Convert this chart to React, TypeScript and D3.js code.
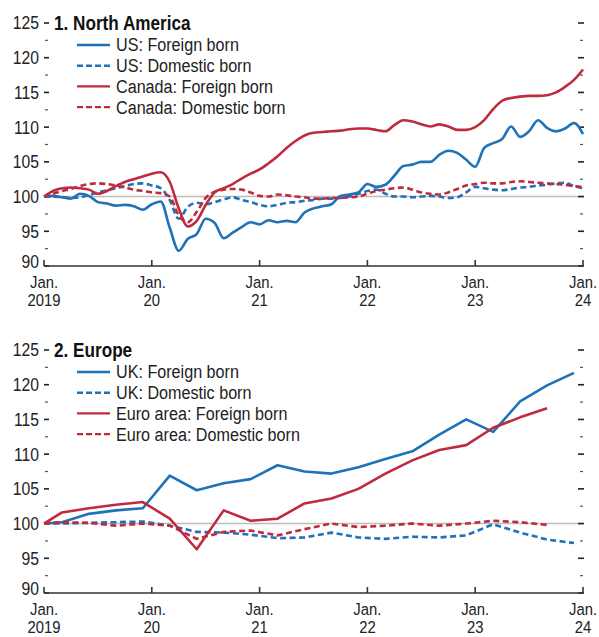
import React from "react";
import * as d3 from "d3";

// months since Jan 2019
const monthsNA = d3.range(0, 61);

const usForeign = [
  100, 100.1, 99.9, 99.7, 100.4, 100.1, 99.2, 99.0, 98.7, 98.8, 98.6, 98.1,
  98.9, 99.3, 95.5, 92.2, 93.9, 94.6, 96.8, 96.2, 94.0, 94.8, 95.6, 96.3,
  96.0, 96.6, 96.3, 96.5, 96.3, 97.7, 98.3, 98.6, 98.9, 100.1, 100.3, 100.6,
  101.8, 101.4, 101.7, 103.0, 104.4, 104.6, 105.0, 105.0, 106.0, 106.6, 106.3, 105.3,
  104.3, 107.0, 107.7, 108.3, 110.1, 108.6, 109.4, 111.0, 109.9, 109.4, 109.8, 110.6,
  109.0
];
const usDomestic = [
  100, 100.0, 99.9, 99.8, 99.9, 100.2, 100.6, 100.9, 101.2, 101.5, 101.8, 101.9,
  101.6, 101.2, 99.5, 96.8, 98.5, 99.1, 98.9, 99.2, 99.6, 99.9, 99.5, 99.2,
  98.8, 98.6, 98.8, 99.1, 99.2, 99.4, 99.5, 99.7, 99.7, 99.8, 100.0, 100.4,
  100.8, 101.0, 100.4, 100.0, 100.0, 99.9, 100.0, 100.1, 100.0, 99.8, 99.9, 100.6,
  101.4, 101.2, 101.0, 100.9, 101.1, 101.3, 101.4, 101.6, 101.7, 101.9, 102.0, 101.5,
  101.2
];
const canForeign = [
  100, 100.8, 101.2, 101.3, 101.2, 101.0, 100.4, 100.8, 101.5, 102.1, 102.5, 102.9,
  103.3, 103.5, 102.1, 98.3, 95.7, 96.5, 98.8, 100.6, 101.2, 101.8, 102.6, 103.3,
  103.9, 104.8, 105.8, 107.0, 108.0, 108.8, 109.2, 109.3, 109.4, 109.5, 109.7, 109.8,
  109.8, 109.6, 109.4, 110.3, 111.0, 110.8, 110.4, 110.1, 110.4, 110.1, 109.6, 109.6,
  110.0, 111.0, 112.6, 113.8, 114.2, 114.4, 114.5, 114.5, 114.6, 115.0, 115.8, 116.8,
  118.3
];
const canDomestic = [
  100, 100.4, 100.8, 101.1, 101.5, 101.8, 101.9, 101.8, 101.6, 101.3, 101.0, 100.8,
  100.6, 100.5, 100.0, 97.3, 96.3, 97.8, 99.8, 100.7, 101.0, 101.1, 101.0, 100.6,
  100.1, 100.0, 100.3, 100.2, 100.0, 99.9, 99.7, 99.7, 99.8, 99.8, 99.9, 100.0,
  100.4, 100.8, 101.0, 101.2, 101.3, 101.0, 100.6, 100.4, 100.3, 100.6, 101.1, 101.6,
  101.8, 102.0, 101.9, 101.9, 102.1, 102.2, 102.1, 102.0, 101.9, 101.8, 101.7, 101.5,
  101.4
];

// quarterly points, month index
const monthsEU = [0, 2, 5, 8, 11, 14, 17, 20, 23, 26, 29, 32, 35, 38, 41, 44, 47, 50, 53, 56, 59];
const ukForeign = [
  100, 100.2, 101.4, 101.9, 102.2, 106.9, 104.8, 105.8, 106.4, 108.4, 107.5,
  107.2, 108.1, 109.3, 110.4, 112.8, 115.0, 113.2, 117.6, 119.9, 121.7
];
const ukDomestic = [
  100, 100.0, 100.1, 100.2, 100.3, 99.7, 98.8, 98.7, 98.4, 97.9, 98.0,
  98.7, 98.0, 97.8, 98.1, 98.0, 98.3, 99.9, 98.7, 97.7, 97.2
];
const euroForeign = [
  100, 101.6, 102.2, 102.7, 103.1, 100.7, 96.3, 101.9, 100.4, 100.7, 102.9,
  103.6, 105.0, 107.2, 109.1, 110.6, 111.3, 113.8, 115.3, 116.6
];
const euroDomestic = [
  100, 100.2, 100.1, 99.7, 100.0, 99.7, 97.8, 98.8, 99.0, 98.3, 99.2,
  100.0, 99.5, 99.7, 100.0, 99.7, 100.0, 100.4, 100.2, 99.8
];

const yearLabels = ["2019", "20", "21", "22", "23", "24"];
const yTicks = [90, 95, 100, 105, 110, 115, 120, 125];
const yMinor = [92.5, 97.5, 102.5, 107.5, 112.5, 117.5, 122.5];

const BLUE = "#1f72b8";
const RED = "#bf2a3f";
const FONT = "'Liberation Sans', Arial, sans-serif";
const SQUEEZE = 0.85; // no narrow face installed, so condense by hand

type Series = { name: string; x: number[]; y: number[]; color: string; dashed: boolean };

const panels: { title: string; top: number; curve: any; series: Series[] }[] = [
  {
    title: "1. North America",
    top: 23,
    curve: d3.curveMonotoneX,
    series: [
      { name: "US: Foreign born", x: monthsNA, y: usForeign, color: BLUE, dashed: false },
      { name: "US: Domestic born", x: monthsNA, y: usDomestic, color: BLUE, dashed: true },
      { name: "Canada: Foreign born", x: monthsNA, y: canForeign, color: RED, dashed: false },
      { name: "Canada: Domestic born", x: monthsNA, y: canDomestic, color: RED, dashed: true }
    ]
  },
  {
    title: "2. Europe",
    top: 350,
    curve: d3.curveLinear,
    series: [
      { name: "UK: Foreign born", x: monthsEU, y: ukForeign, color: BLUE, dashed: false },
      { name: "UK: Domestic born", x: monthsEU, y: ukDomestic, color: BLUE, dashed: true },
      { name: "Euro area: Foreign born", x: monthsEU, y: euroForeign, color: RED, dashed: false },
      { name: "Euro area: Domestic born", x: monthsEU, y: euroDomestic, color: RED, dashed: true }
    ]
  }
];

const xScale = d3.scaleLinear().domain([0, 60]).range([44, 583]);

function Txt(props: { x: number; y: number; anchor?: string; bold?: boolean; size?: number; sq?: number; children: any }) {
  return (
    <g transform={`translate(${props.x},${props.y}) scale(${props.sq || SQUEEZE},1)`}>
      <text
        textAnchor={props.anchor || "start"}
        dominantBaseline="central"
        fontSize={props.size || 18.5}
        fontWeight={props.bold ? "bold" : "normal"}
        fill={props.bold ? "#111" : "#222"}
      >
        {props.children}
      </text>
    </g>
  );
}

function Panel({ p }: { p: (typeof panels)[0] }) {
  const yScale = d3.scaleLinear().domain([90, 125]).range([p.top + 243, p.top]);
  const base = yScale(90);
  return (
    <g>
      {/* reference line */}
      <line x1={44} x2={583} y1={yScale(100)} y2={yScale(100)} stroke="#bdbdbd" strokeWidth={1.6} />

      {/* y ticks both sides */}
      {yTicks.map(t => (
        <g key={t}>
          <line x1={44} x2={49} y1={yScale(t)} y2={yScale(t)} stroke="#222" strokeWidth={1.6} />
          <line x1={578} x2={584} y1={yScale(t)} y2={yScale(t)} stroke="#222" strokeWidth={1.6} />
          {/* bottom label nudged up a bit so it clears "Jan." */}
          <Txt x={39} y={yScale(t) - (t === 90 ? 4 : 0)} anchor="end">{t}</Txt>
        </g>
      ))}
      {yMinor.map(t => (
        <g key={t}>
          <line x1={45} x2={48} y1={yScale(t)} y2={yScale(t)} stroke="#555" strokeWidth={1.2} />
          <line x1={580} x2={583} y1={yScale(t)} y2={yScale(t)} stroke="#555" strokeWidth={1.2} />
        </g>
      ))}

      {/* x axis */}
      <line x1={44} x2={583} y1={base} y2={base} stroke="#333" strokeWidth={1.6} />
      {yearLabels.map((yl, i) => {
        const x = xScale(i * 12);
        return (
          <g key={yl}>
            <line x1={x} x2={x} y1={base} y2={base - 6} stroke="#333" strokeWidth={1.6} />
            <Txt x={x} y={base + 16} anchor="middle" size={16.5} sq={0.9}>Jan.</Txt>
            <Txt x={x} y={base + 34} anchor="middle" size={16.5} sq={0.9}>{yl}</Txt>
          </g>
        );
      })}

      {/* series */}
      {p.series.map(s => {
        const pts: [number, number][] = s.y.map((v, i) => [s.x[i], v]);
        const path = d3
          .line<[number, number]>()
          .x(d => xScale(d[0]))
          .y(d => yScale(d[1]))
          .curve(p.curve)(pts);
        return (
          <path
            key={s.name}
            d={path || ""}
            fill="none"
            stroke={s.color}
            strokeWidth={2.6}
            strokeDasharray={s.dashed ? "6 3.5" : undefined}
            strokeLinejoin="round"
          />
        );
      })}

      {/* title */}
      <Txt x={54} y={p.top} bold size={19.5} sq={0.88}>{p.title}</Txt>

      {/* legend */}
      {p.series.map((s, i) => {
        const ly = p.top + 22 + i * 20.7;
        return (
          <g key={s.name}>
            <line
              x1={77}
              x2={110}
              y1={ly}
              y2={ly}
              stroke={s.color}
              strokeWidth={2.4}
              strokeDasharray={s.dashed ? "6 3" : undefined}
            />
            <Txt x={116} y={ly} size={19}>{s.name}</Txt>
          </g>
        );
      })}
    </g>
  );
}

export default function App() {
  return (
    <svg
      width={599}
      height={637}
      style={{ position: "absolute", left: 0, top: 0, background: "#fff", fontFamily: FONT }}
    >
      {panels.map(p => (
        <Panel key={p.title} p={p} />
      ))}
    </svg>
  );
}
